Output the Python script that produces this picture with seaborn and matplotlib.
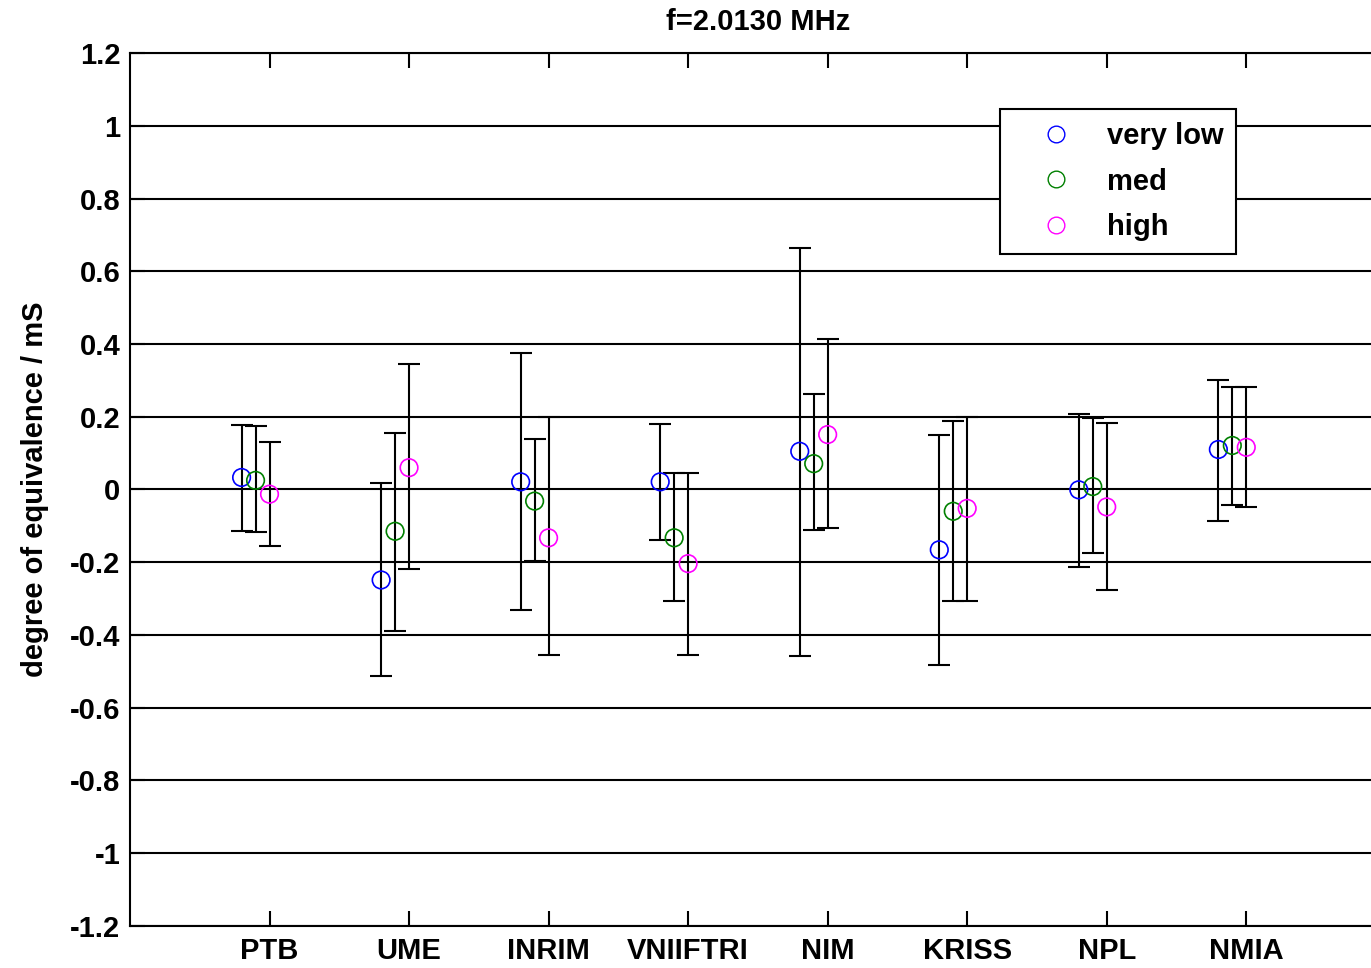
import matplotlib
matplotlib.use("Agg")
import matplotlib.pyplot as plt
import seaborn as sns
import numpy as np
import pandas as pd
from matplotlib.lines import Line2D

categories = ["PTB", "UME", "INRIM", "VNIIFTRI", "NIM", "KRISS", "NPL", "NMIA"]
series = ["very low", "med", "high"]
series_offsets = [-0.2, -0.1, 0.0]
series_colors = ["#0000ff", "#008000", "#ff00ff"]

vl_val = [0.033, -0.249, 0.021, 0.021, 0.105, -0.166, -0.001, 0.110]
vl_hi = [0.176, 0.018, 0.376, 0.181, 0.664, 0.149, 0.208, 0.300]
vl_lo = [-0.113, -0.513, -0.332, -0.138, -0.457, -0.482, -0.212, -0.088]

med_val = [0.025, -0.115, -0.032, -0.133, 0.071, -0.060, 0.008, 0.121]
med_hi = [0.174, 0.156, 0.138, 0.044, 0.262, 0.188, 0.196, 0.282]
med_lo = [-0.118, -0.388, -0.196, -0.307, -0.112, -0.307, -0.175, -0.044]

high_val = [-0.013, 0.060, -0.133, -0.204, 0.151, -0.052, -0.048, 0.116]
high_hi = [0.131, 0.345, 0.199, 0.044, 0.414, 0.199, 0.182, 0.282]
high_lo = [-0.156, -0.219, -0.456, -0.456, -0.106, -0.307, -0.276, -0.049]

y_ticks = [-1.2, -1.0, -0.8, -0.6, -0.4, -0.2, 0.0, 0.2, 0.4, 0.6, 0.8, 1.0, 1.2]
y_tick_labels = ["-1.2", "-1", "-0.8", "-0.6", "-0.4", "-0.2", "0", "0.2", "0.4", "0.6", "0.8", "1", "1.2"]

sns.set_theme(style="white")
plt.rcParams["font.family"] = ["Liberation Sans", "DejaVu Sans"]

vals = [vl_val, med_val, high_val]
his = [vl_hi, med_hi, high_hi]
los = [vl_lo, med_lo, high_lo]

rows = []
for s, off, v, h, l in zip(series, series_offsets, vals, his, los):
    for i, c in enumerate(categories):
        rows.append({"category": c, "series": s, "x": i + 1 + off,
                     "value": v[i], "hi": h[i], "lo": l[i]})
df = pd.DataFrame(rows)

FS = 21

fig = plt.figure(figsize=(13.71, 9.68), dpi=100)
ax = fig.add_axes([0.0948, 0.0437, 0.916, 0.9013])

# horizontal grid lines
for yt in y_ticks:
    ax.axhline(yt, color="black", lw=1.5, zorder=1)

# error bars
for s in series:
    d = df[df["series"] == s]
    ax.errorbar(d["x"], d["value"],
                yerr=[d["value"] - d["lo"], d["hi"] - d["value"]],
                fmt="none", ecolor="black", elinewidth=1.5, capsize=8,
                capthick=1.5, zorder=2)

sns.scatterplot(data=df, x="x", y="value", hue="series", hue_order=series,
                palette=series_colors, ax=ax, marker="o", s=160,
                linewidth=1.2, zorder=3, legend=False)
coll = ax.collections[-1]
fc = coll.get_facecolors()
coll.set_edgecolors(fc)
coll.set_facecolors("none")

ax.set_xlim(0, 9)
ax.set_ylim(-1.2, 1.2)
ax.set_xticks(range(1, len(categories) + 1))
ax.set_xticklabels(categories, fontsize=FS, fontweight="bold")
ax.set_yticks(y_ticks)
ax.set_yticklabels(y_tick_labels, fontsize=FS, fontweight="bold")
ax.tick_params(axis="both", direction="in", length=11, width=1.5, colors="black",
               top=True, right=True, bottom=True, left=True)
ax.tick_params(axis="x", pad=8)
ax.tick_params(axis="y", pad=7)
ax.set_xlabel("")
ax.set_ylabel("degree of equivalence / mS", fontsize=FS, fontweight="bold",
              color="black", labelpad=15)
ax.set_title("f=2.0130 MHz", fontsize=FS, fontweight="bold", pad=17, color="black")
for sp in ax.spines.values():
    sp.set_color("black")
    sp.set_linewidth(1.5)

handles = [Line2D([], [], ls="none", marker="o", markersize=12, markerfacecolor="none",
                  markeredgecolor=c, markeredgewidth=1.0) for c in series_colors]
leg = ax.legend(handles, series, loc="upper left", bbox_to_anchor=(0.693, 0.936),
                frameon=True, fancybox=False, framealpha=1, edgecolor="black",
                prop={"size": FS, "weight": "bold"}, handletextpad=0.25,
                borderpad=0.45, labelspacing=0.6, handlelength=2.95, borderaxespad=0)
leg.get_frame().set_linewidth(1.5)
for t in leg.get_texts():
    t.set_color("black")

fig.savefig("out.png", dpi=100)
